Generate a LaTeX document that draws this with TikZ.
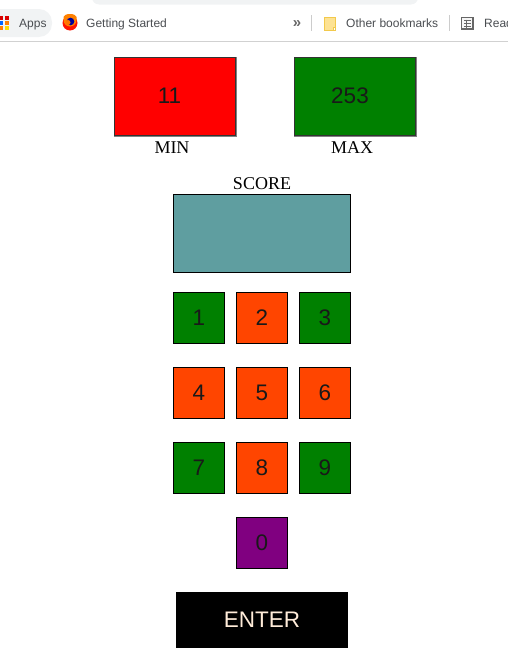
\documentclass[tikz,border=0pt]{standalone}
\usepackage{fontspec}
\setmainfont{Liberation Sans}
\newfontfamily\serifface{Liberation Serif}
\usetikzlibrary{positioning}
\definecolor{scoreteal}{HTML}{5F9EA0}
\definecolor{keyorange}{HTML}{FF4500}
\definecolor{keygreen}{HTML}{008000}
\definecolor{keypurple}{HTML}{800080}
\definecolor{barinktext}{HTML}{4A4D51}
\definecolor{bargrey}{HTML}{F1F3F4}
\definecolor{folderfill}{HTML}{FDE293}
\definecolor{folderedge}{HTML}{F2C94C}
\tikzset{
  keybox/.style={draw=black, line width=1pt, minimum width=51pt, minimum height=51pt, inner sep=0pt, text=black!90, font=\fontsize{22.5}{22.5}\selectfont},
  bigbox/.style={draw=black!80, line width=1pt, minimum width=121pt, minimum height=78pt, inner sep=0pt},
  bigtext/.style={inner sep=0pt, text=black!90, font=\fontsize{22.5}{22.5}\selectfont},
  caption/.style={inner sep=0pt, font=\fontsize{18}{18}\selectfont\serifface},
  barlabel/.style={inner sep=0pt, anchor=base west, text=barinktext, font=\fontsize{12}{12}\selectfont}
}
\begin{document}
\begin{tikzpicture}[x=1pt,y=-1pt]
\useasboundingbox (0,0) rectangle (508,653);
%browser bar
\fill[bargrey, rounded corners=7pt] (92,-10) rectangle (418,4.5);
\fill[bargrey, rounded corners=13pt] (-20,9) rectangle (52,37);
\draw[black!18] (0,41.5) -- (508,41.5);
\fill[red!85!black] (0,16) rectangle (3,20);
\fill[blue!60!cyan] (0,21) rectangle (3,25);
\fill[orange] (0,26) rectangle (3,30);
\fill[red!85!black] (5,16) rectangle (9,20);
\fill[orange] (5,21) rectangle (9,25);
\fill[yellow!80!orange] (5,26) rectangle (9,30);
\node[barlabel] (apps) at (19,27.5) {Apps};
\fill[red!85!orange] (70,23) circle (7.5pt);
\fill[orange] (63.5,20) arc (180:360:6.5pt and 6.5pt) -- (76.5,17) arc (0:180:6.5pt and 3pt) -- cycle;
\fill[blue!60!black] (70.5,21.5) circle (3.8pt);
\fill[orange!90!red] (68,22.5) circle (2.5pt);
\node[barlabel] (started) at (86,27.5) {Getting Started};
\node[inner sep=0pt, text=black!60, font=\fontsize{15}{15}\selectfont\bfseries] (more) at (297,24.5) {»};
\draw[black!20] (311.5,15) -- (311.5,31);
\draw[fill=folderfill, draw=folderedge, line width=1pt] (324.5,17) rectangle (335,30);
\draw[fill=white, draw=folderedge, line width=.7pt] (333,27) rectangle (335,30);
\node[barlabel] (other) at (346,27.5) {Other bookmarks};
\draw[black!20] (449.5,15) -- (449.5,31);
\draw[black!60, fill=black!4, line width=1.2pt] (461.5,17.5) rectangle (473,29);
\draw[black!60] (464,20.5) -- (470.5,20.5) (464,23.5) -- (470.5,23.5) (464,26.5) -- (470.5,26.5) (466,19.5) -- (466,27.5);
\begin{scope}
\clip (0,0) rectangle (508,653);
\node[barlabel] (read) at (484,27.5) {Read};
\end{scope}
%min and max
\node[bigbox, fill=red] (minbox) at (175,96.5) {};
\node[bigbox, fill=keygreen] (maxbox) at (355,96.5) {};
\foreach \boxname in {minbox,maxbox}
  \draw[black!50, line width=1pt] (\boxname.south west) -- (\boxname.south east) -- (\boxname.north east);
\node[bigtext] (minvalue) at (169.5,96) {11};
\node[bigtext] (maxvalue) at (350,96) {253};
\node[caption] (minlabel) at (172,148) {MIN};
\node[caption] (maxlabel) at (352,148) {MAX};
%score
\node[caption] (scorelabel) at (262,184) {SCORE};
\node[draw=black, line width=1pt, fill=scoreteal, minimum width=177pt, minimum height=78pt, inner sep=0pt] (scorebox) at (262,233.5) {};
%keys
\foreach \name/\x/\y/\col in {1/199/318/keygreen, 2/262/318/keyorange, 3/325/318/keygreen,
                              4/199/393/keyorange, 5/262/393/keyorange, 6/325/393/keyorange,
                              7/199/468/keygreen, 8/262/468/keyorange, 9/325/468/keygreen,
                              0/262/543/keypurple}
  \node[keybox, fill=\col] (key\name) at (\x,\y) {\name};
%enter
\node[fill=black, text=white!85!orange, minimum width=172pt, minimum height=56pt, inner sep=0pt, font=\fontsize{22.5}{22.5}\selectfont] (enter) at (262,620) {ENTER};
\end{tikzpicture}
\end{document}
